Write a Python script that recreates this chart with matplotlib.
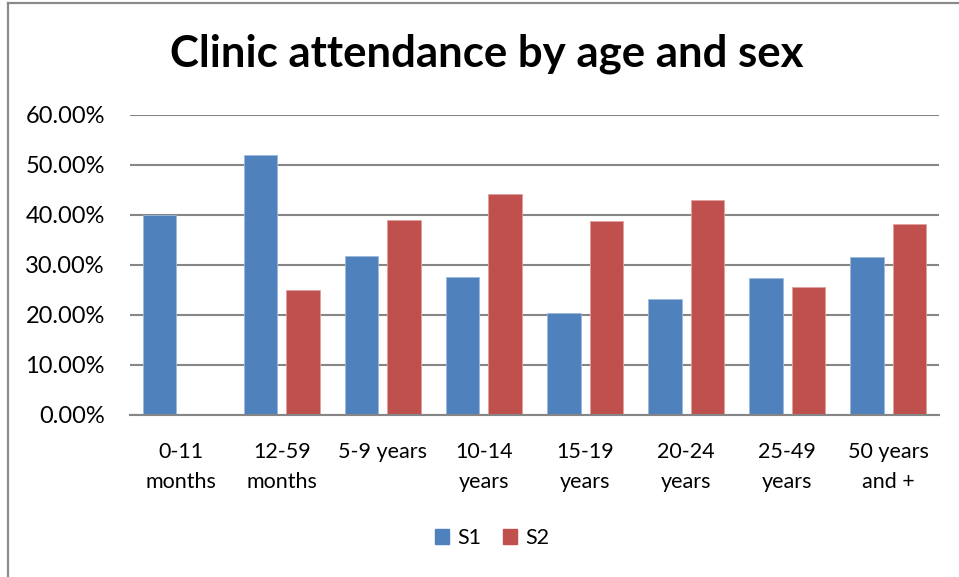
import matplotlib
matplotlib.use("Agg")
import matplotlib.pyplot as plt
from matplotlib.patches import Patch
from matplotlib.lines import Line2D
from matplotlib.ticker import PercentFormatter, MultipleLocator
import numpy as np

categories = ["0-11\nmonths", "12-59\nmonths", "5-9 years", "10-14\nyears",
              "15-19\nyears", "20-24\nyears", "25-49\nyears", "50 years\nand +"]
s1 = [0.400, 0.520, 0.317, 0.275, 0.203, 0.231, 0.273, 0.315]
s2 = [0.000, 0.250, 0.389, 0.442, 0.388, 0.429, 0.256, 0.381]
series_names = ["S1", "S2"]
title = "Clinic attendance by age and sex"

BLUE = "#4F81BD"
RED = "#C0504D"
GRID = "#868686"
W, H = 959, 577

plt.rcParams["font.family"] = ["Lato", "DejaVu Sans"]

fig = plt.figure(figsize=(W / 100, H / 100), dpi=100)
fig.patch.set_facecolor("white")

ax = fig.add_axes([130 / W, (H - 414.7) / H, 809 / W, 300 / H])
x = np.arange(len(categories))
bw = 0.332
off = 0.21
ax.bar(x - off, s1, width=bw, color=BLUE, edgecolor="#9DB9DB", linewidth=0.6, zorder=3)
ax.bar(x + off, s2, width=bw, color=RED, edgecolor="#E0A09E", linewidth=0.6, zorder=3)

ax.set_xlim(-0.5, len(categories) - 0.5)
ax.set_ylim(0, 0.6)
ax.yaxis.set_major_locator(MultipleLocator(0.1))
ax.yaxis.set_major_formatter(PercentFormatter(xmax=1, decimals=2))
ax.grid(axis="y", color=GRID, linewidth=1.5, zorder=0)
for side in ["left", "right", "top"]:
    ax.spines[side].set_visible(False)
ax.spines["bottom"].set_color(GRID)
ax.spines["bottom"].set_linewidth(1.5)
ax.spines["bottom"].set_zorder(4)

ax.set_xticks(x)
ax.set_xticklabels(categories, fontsize=15.5, linespacing=1.6)
ax.tick_params(axis="x", length=0, pad=20)
ax.tick_params(axis="y", length=0, pad=18, labelsize=17)

fig.text(486.5 / W, (H - 67) / H, title, ha="center", va="baseline",
         fontsize=31.5, fontweight="bold")

handles = [Patch(facecolor=BLUE, edgecolor=BLUE), Patch(facecolor=RED, edgecolor=RED)]
fig.legend(handles, series_names, loc="center", bbox_to_anchor=(492 / W, (H - 538) / H),
           ncol=2, frameon=False, fontsize=15.5, handlelength=0.65, handleheight=0.65,
           handletextpad=0.4, columnspacing=1.0)

# outer chart frame (top and left edges)
fig.add_artist(Line2D([8 / W, 8 / W], [0, (H - 2.5) / H], color="#8A8A8A",
                      linewidth=1.6, transform=fig.transFigure))
fig.add_artist(Line2D([8 / W, 1], [(H - 2.5) / H, (H - 2.5) / H], color="#8A8A8A",
                      linewidth=1.6, transform=fig.transFigure))

fig.savefig("out.png", dpi=100)
